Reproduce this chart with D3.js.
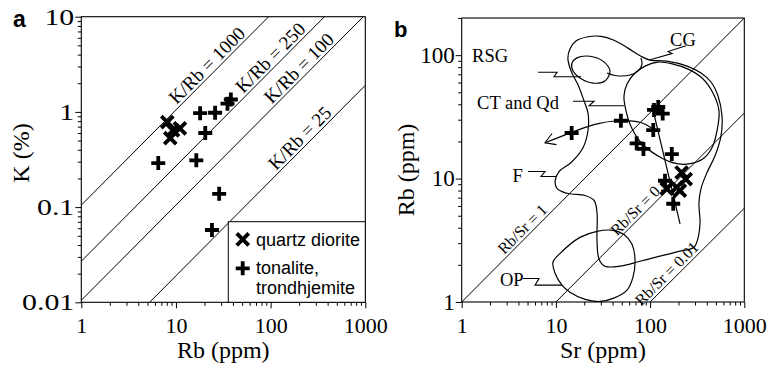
<!DOCTYPE html>
<html>
<head>
<meta charset="utf-8">
<script src="https://cdn.jsdelivr.net/npm/d3@7"></script>
<style>
  body { margin: 0; background: #fff; }
  text { font-family: "Liberation Serif", "Times New Roman", serif; fill: #000; }
  .sans { font-family: "Liberation Sans", Arial, sans-serif; }
</style>
</head>
<body>
<svg id="chart" width="770" height="371"></svg>
<script>
// ----- panel a : K (%) against Rb (ppm) -----
var quartzDiorite = [[8.1, 0.78], [9.3, 0.64], [11, 0.67], [8.7, 0.53]];
var tonalite = [[6.5, 0.29], [16.4, 0.31], [18, 0.97], [25.9, 0.98], [20.4, 0.6],
                [35, 1.22], [38, 1.35], [28.6, 0.138], [24, 0.0575]];
var kRbLabels = ["K/Rb = 1000", "K/Rb = 250", "K/Rb = 100", "K/Rb = 25"];
var kRbAtRb1 = [0.105, 0.027, 0.0105, 0.0019];   // K (%) where each line meets Rb = 1
var kRbLabelRb = [25, 117, 234, 239];             // Rb under the middle of each label
var aTicksX = [1, 10, 100, 1000];
var aTicksY = [0.01, 0.1, 1, 10];
var aTickLabelsX = ["1", "10", "100", "1000"];
var aTickLabelsY = ["0.01", "0.1", "1", "10"];

// ----- panel b : Rb (ppm) against Sr (ppm) -----
var crossB = [[216, 11.2], [239, 9.9], [191, 8.5], [150, 8.3], [207, 8.0]];
var plusB = [[14.7, 23.4], [49, 29.4], [110, 36], [122, 38], [136, 33.6], [108, 24.7],
             [72, 19.3], [85, 17.4], [170, 15.8], [144, 9.6], [176, 6.25]];
var rbSrLabels = ["Rb/Sr = 1", "Rb/Sr = 0.1", "Rb/Sr = 0.01"];
var rbSrLines = [[[1, 1], [1000, 200]], [[10, 1], [1000, 34]], [[100, 1], [1000, 5.75]]];
var rbSrLabelPos = [0.236, 0.475, 0.24];          // share of the line length
var bTicksX = [1, 10, 100, 1000];
var bTicksY = [1, 10, 100];
var bTickLabelsX = ["1", "10", "100", "1000"];
var bTickLabelsY = ["1", "10", "100"];

var fieldRSG = [[14.8, 86], [16.7, 95], [23, 98], [31.6, 89.5], [37.5, 74.3], [33.2, 61.7],
                [24.8, 59.4], [18, 65.3], [15.2, 74.3]];
var fieldF = [[14.1, 112], [16.3, 130], [21.9, 141], [30.1, 142], [41.4, 132], [58.2, 114],
              [80, 98], [99.8, 91.2], [151, 89.5], [247, 81.5], [347, 71.6], [443, 60.6],
              [526, 46.7], [580, 32.2], [566, 22.2], [489, 15.3], [402, 11.2], [347, 8.3],
              [330, 6.3], [339, 4.42], [322, 3.28], [292, 2.78], [208, 2.58], [127, 2.35],
              [78, 2.14], [47.9, 1.95], [33.2, 1.95], [28.7, 2.22], [27.3, 3.16], [27.3, 5.32],
              [25.4, 6.65], [20.4, 7.29], [13.4, 7.57], [10.3, 8.3], [9.8, 9.6], [10.8, 11.4],
              [14.5, 13.5], [19.4, 17.8], [21.9, 24.4], [21.9, 34.1], [19.9, 42.6], [17.2, 57.3],
              [14.5, 74.3], [13.4, 94.6]];
var fieldCTQd = [[55.5, 35.3], [52.8, 46.7], [56.9, 58.3], [67.5, 70.3], [88.3, 81.5],
                 [121, 87.9], [175, 84.6], [253, 77.1], [356, 65.3], [465, 49.4], [539, 35.3],
                 [513, 24.4], [454, 17.8], [365, 14.5], [265, 13.2], [193, 13.2], [137, 14.5],
                 [84.1, 18.8], [64.3, 25.3]];
var fieldOP = [[9.31, 2.1], [11.1, 2.48], [18, 3.34], [27.3, 3.74], [40.4, 3.81], [52.8, 3.53],
               [64.3, 2.94], [69.2, 2.18], [65.8, 1.59], [56.9, 1.25], [40.4, 1.07], [29.4, 1.01],
               [20.4, 1.05], [14.1, 1.2], [11.6, 1.37], [9.8, 1.71]];
var cgEdge = [[34.9, 71.6], [42.4, 68.4], [61.2, 69], [76.2, 75.7], [82, 84.6], [80, 94.6]];
var trendCurve = [[107, 25.3], [78.2, 28.6], [45.6, 29.4], [26, 27.5], [14.8, 23.7], [7.66, 19.5]];
var trendLine = [[108, 35.3], [208, 4.3]];

var fieldNames = ["RSG", "CG", "CT and Qd", "F", "OP"];
var fieldNamePos = [[2, 100], [223, 133], [3.96, 41], [3.93, 10.5], [3.4, 1.52]];
var fieldLeaders = [
    [[6.46, 72.7], [10.3, 72.7], [9.55, 66.8], [18.5, 66.8]],
    [[240, 119], [155, 107], [171, 103], [99.8, 91.8]],
    [[15.2, 42.3], [25.4, 42.3], [22.5, 38.9], [52.8, 38.9]],
    [[5.06, 11.4], [7.66, 11.4], [6.95, 10.4], [10, 10.4]],
    [[4.48, 1.55], [6.62, 1.55], [6, 1.37], [11.6, 1.37]]
];

var svg = d3.select("#chart");

var xa = d3.scaleLog().domain([1, 1000]).range([81.3, 365.3]);
var ya = d3.scaleLog().domain([0.01, 10]).range([302.3, 16.7]);
var xb = d3.scaleLog().domain([1, 1000]).range([461.7, 744.3]);
var yb = d3.scaleLog().domain([1, 200]).range([302, 18]);

var defs = svg.append("defs");
defs.append("marker")
    .attr("id", "openArrow")
    .attr("viewBox", "-12 -7 14 14")
    .attr("markerWidth", 14).attr("markerHeight", 14)
    .attr("markerUnits", "userSpaceOnUse")
    .attr("orient", "auto")
    .append("path")
    .attr("d", "M-10,-6L0,0L-10,6")
    .attr("fill", "none").attr("stroke", "#000").attr("stroke-width", 1.1);

function minorTicks(domain) {
    var out = [];
    for (var d = domain[0]; d < domain[1]; d *= 10) {
        for (var k = 2; k <= 9; k++) {
            if (k * d <= domain[1] * 1.0001) out.push(k * d);
        }
    }
    return out;
}

// yStretch widens the y tick labels the way the scanned figure shows them
function drawFrame(name, x, y, xMajor, yMajor, xLabels, yLabels, ySize, yStretch) {
    var g = svg.append("g");
    var x0 = x.range()[0], x1 = x.range()[1], y0 = y.range()[0], y1 = y.range()[1];

    defs.append("clipPath").attr("id", "clip" + name)
        .append("rect").attr("x", x0).attr("y", y1).attr("width", x1 - x0).attr("height", y0 - y1);

    // minor and major ticks, outward
    g.append("g").attr("transform", "translate(0," + y0 + ")")
        .call(d3.axisBottom(x).tickValues(minorTicks(x.domain())).tickSize(3.5).tickFormat(""))
        .call(function(s) { s.select(".domain").remove(); });
    var gx = g.append("g").attr("transform", "translate(0," + y0 + ")")
        .call(d3.axisBottom(x).tickValues(xMajor).tickSize(6).tickPadding(9)
            .tickFormat(function(d, i) { return xLabels[i]; }))
        .call(function(s) { s.select(".domain").remove(); });
    g.append("g").attr("transform", "translate(" + x0 + ",0)")
        .call(d3.axisLeft(y).tickValues(minorTicks(y.domain())).tickSize(3.5).tickFormat(""))
        .call(function(s) { s.select(".domain").remove(); });
    var gy = g.append("g").attr("transform", "translate(" + x0 + ",0)")
        .call(d3.axisLeft(y).tickValues(yMajor).tickSize(6).tickPadding(4)
            .tickFormat(function(d, i) { return yLabels[i]; }))
        .call(function(s) { s.select(".domain").remove(); });

    g.selectAll(".tick line").attr("stroke", "#000").attr("stroke-width", 1);
    g.selectAll(".tick text")
        .style("font-family", "'Liberation Serif', 'Times New Roman', serif")
        .attr("fill", "#000");
    gx.selectAll(".tick text").style("font-size", "22px");
    gy.selectAll(".tick text")
        .style("font-size", ySize + "px")
        .attr("x", null)
        .attr("transform", "translate(-7,0) scale(" + yStretch + ",1)");

    g.append("rect")
        .attr("x", x0).attr("y", y1).attr("width", x1 - x0).attr("height", y0 - y1)
        .attr("fill", "none").attr("stroke", "#000").attr("stroke-width", 1.1);
    return g;
}

function lineLabel(text, p0, p1, t, size) {
    var px = p0[0] + t * (p1[0] - p0[0]);
    var py = p0[1] + t * (p1[1] - p0[1]);
    var angle = Math.atan2(p1[1] - p0[1], p1[0] - p0[0]) * 180 / Math.PI;
    svg.append("text")
        .attr("transform", "translate(" + px + "," + py + ") rotate(" + angle + ")")
        .attr("text-anchor", "middle").attr("dy", -3)
        .style("font-size", size + "px")
        .text(text);
}

function drawPlus(g, pts, x, y) {
    g.selectAll(null).data(pts).enter().append("path")
        .attr("transform", function(d) { return "translate(" + x(d[0]) + "," + y(d[1]) + ")"; })
        .attr("d", "M-7,0H7M0,-7V7")
        .attr("stroke", "#000").attr("stroke-width", 3.8).attr("fill", "none");
}

function drawCross(g, pts, x, y) {
    g.selectAll(null).data(pts).enter().append("path")
        .attr("transform", function(d) { return "translate(" + x(d[0]) + "," + y(d[1]) + ")"; })
        .attr("d", "M-6,-6L6,6M-6,6L6,-6")
        .attr("stroke", "#000").attr("stroke-width", 3.8).attr("fill", "none");
}

// ================= panel a =================
drawFrame("A", xa, ya, aTicksX, aTicksY, aTickLabelsX, aTickLabelsY, 23, 1.3);

var ratioLines = svg.append("g").attr("clip-path", "url(#clipA)");
kRbAtRb1.forEach(function(c, i) {
    var p0 = [xa(1), ya(c)], p1 = [xa(1000), ya(c * 1000)];
    ratioLines.append("line")
        .attr("x1", p0[0]).attr("y1", p0[1]).attr("x2", p1[0]).attr("y2", p1[1])
        .attr("stroke", "#000").attr("stroke-width", 1);
    var t = (xa(kRbLabelRb[i]) - p0[0]) / (p1[0] - p0[0]);
    lineLabel(kRbLabels[i], p0, p1, t, 19);
});

// legend box sits over the lines
var legend = svg.append("g");
legend.append("rect")
    .attr("x", 228.3).attr("y", 221.7).attr("width", xa(1000) - 228.3).attr("height", ya(0.01) - 221.7)
    .attr("fill", "#fff").attr("stroke", "#000").attr("stroke-width", 1);
drawCross(legend, [[0, 0]], function() { return 242.7; }, function() { return 239.3; });
drawPlus(legend, [[0, 0]], function() { return 242.7; }, function() { return 268.3; });
legend.append("text").attr("class", "sans").attr("x", 256).attr("y", 245.5)
    .style("font-size", "18px").text("quartz diorite");
legend.append("text").attr("class", "sans").attr("x", 256).attr("y", 274)
    .style("font-size", "18px").text("tonalite,");
legend.append("text").attr("class", "sans").attr("x", 256).attr("y", 293.5)
    .style("font-size", "18px").text("trondhjemite");

var pointsA = svg.append("g");
drawCross(pointsA, quartzDiorite, xa, ya);
drawPlus(pointsA, tonalite, xa, ya);

svg.append("text").attr("x", (xa.range()[0] + xa.range()[1]) / 2).attr("y", 358)
    .attr("text-anchor", "middle").style("font-size", "24px").text("Rb (ppm)");
svg.append("text").attr("transform", "translate(29,153) rotate(-90)")
    .attr("text-anchor", "middle").style("font-size", "24px").text("K (%)");
svg.append("text").attr("class", "sans").attr("x", 13).attr("y", 27)
    .style("font-size", "23px").style("font-weight", "bold").text("a");

// ================= panel b =================
drawFrame("B", xb, yb, bTicksX, bTicksY, bTickLabelsX, bTickLabelsY, 23, 1);

var bLines = svg.append("g").attr("clip-path", "url(#clipB)");
rbSrLines.forEach(function(seg, i) {
    var p0 = [xb(seg[0][0]), yb(seg[0][1])], p1 = [xb(seg[1][0]), yb(seg[1][1])];
    bLines.append("line")
        .attr("x1", p0[0]).attr("y1", p0[1]).attr("x2", p1[0]).attr("y2", p1[1])
        .attr("stroke", "#000").attr("stroke-width", 1);
    lineLabel(rbSrLabels[i], p0, p1, rbSrLabelPos[i], 16);
});

var closedShape = d3.line()
    .x(function(d) { return xb(d[0]); })
    .y(function(d) { return yb(d[1]); })
    .curve(d3.curveCatmullRomClosed.alpha(0.5));
var openShape = d3.line()
    .x(function(d) { return xb(d[0]); })
    .y(function(d) { return yb(d[1]); })
    .curve(d3.curveCatmullRom.alpha(0.5));
var straight = d3.line()
    .x(function(d) { return xb(d[0]); })
    .y(function(d) { return yb(d[1]); });

var fields = svg.append("g").attr("clip-path", "url(#clipB)")
    .attr("fill", "none").attr("stroke", "#000").attr("stroke-width", 1.2);
[fieldF, fieldRSG, fieldCTQd, fieldOP].forEach(function(f) {
    fields.append("path").attr("d", closedShape(f));
});
fields.append("path").attr("d", openShape(cgEdge));
fields.append("path").attr("d", openShape(trendCurve)).attr("marker-end", "url(#openArrow)");
fields.append("path").attr("d", straight(trendLine));

var leaderG = svg.append("g").attr("fill", "none").attr("stroke", "#000").attr("stroke-width", 1.1);
fieldLeaders.forEach(function(l) { leaderG.append("path").attr("d", straight(l)); });

fieldNames.forEach(function(n, i) {
    svg.append("text")
        .attr("x", xb(fieldNamePos[i][0])).attr("y", yb(fieldNamePos[i][1]))
        .attr("text-anchor", "middle").attr("dy", "0.35em")
        .style("font-size", "18.5px").text(n);
});

var pointsB = svg.append("g");
drawPlus(pointsB, plusB, xb, yb);
drawCross(pointsB, crossB, xb, yb);

svg.append("text").attr("x", (xb.range()[0] + xb.range()[1]) / 2).attr("y", 358)
    .attr("text-anchor", "middle").style("font-size", "24px").text("Sr (ppm)");
svg.append("text").attr("transform", "translate(414,170) rotate(-90)")
    .attr("text-anchor", "middle").style("font-size", "24px").text("Rb (ppm)");
svg.append("text").attr("class", "sans").attr("x", 394).attr("y", 37)
    .style("font-size", "22px").style("font-weight", "bold").text("b");
</script>
</body>
</html>
